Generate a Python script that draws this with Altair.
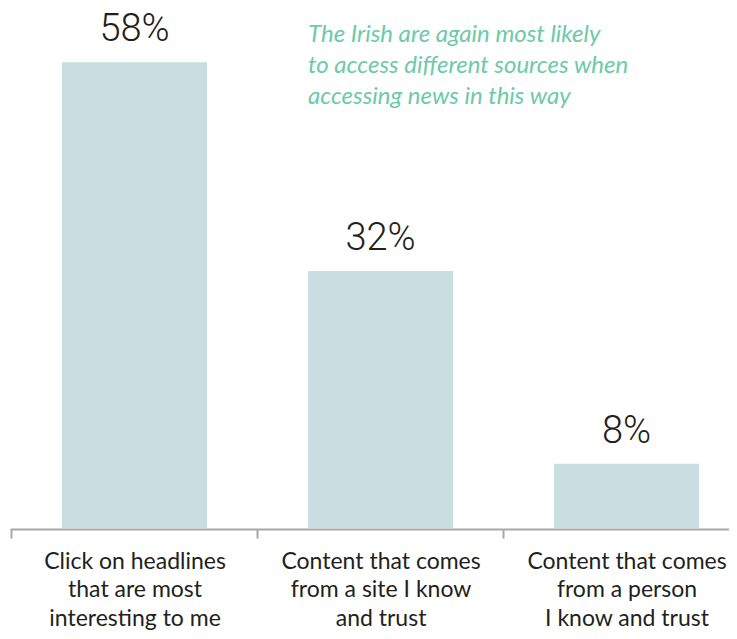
import altair as alt
import pandas as pd

categories = [
    "Click on headlines\nthat are most\ninteresting to me",
    "Content that comes\nfrom a site I know\nand trust",
    "Content that comes\nfrom a person\nI know and trust",
]
values = [58, 32, 8]
value_labels = ["58%", "32%", "8%"]
annotation = "The Irish are again most likely\nto access different sources when\naccessing news in this way"

df = pd.DataFrame({"cat": categories, "val": values, "lab": value_labels})

x_scale = alt.Scale(paddingInner=0.41, paddingOuter=0.1664, align=0.635)

x_enc = alt.X(
    "cat:N",
    sort=categories,
    scale=x_scale,
    axis=alt.Axis(
        title=None,
        labelExpr="split(datum.label, '\\n')",
        labelFont="Lato",
        labelFontSize=23,
        labelColor="#231f20",
        labelLineHeight=28.5,
        labelBaseline="alphabetic",
        labelPadding=30,
        labelAngle=0,
        labelAlign="center",
        tickOffset=-124,
        labelOffset=124,
        tickSize=9,
        tickWidth=2,
        tickColor="#a8a8ab",
        domainColor="#a8a8ab",
        domainWidth=2,
        offset=1,
        labelLimit=0,
        grid=False,
    ),
)

y_enc = alt.Y("val:Q", scale=alt.Scale(domain=[0, 64], nice=False), axis=None)

bars = alt.Chart(df).mark_bar(color="#c8dee0").encode(x=x_enc, y=y_enc)

labels = alt.Chart(df).mark_text(
    font="Roboto", fontWeight=300, fontSize=38, color="#231f20",
    baseline="alphabetic", dy=-21,
).encode(x=alt.X("cat:N", sort=categories), y="val:Q", text="lab:N")

note = alt.Chart(pd.DataFrame({"t": [annotation]})).transform_calculate(
    tt="split(datum.t, '\\n')"
).mark_text(
    font="Lato", fontStyle="italic", fontSize=24,
    color="#6ccaa7", align="left", baseline="alphabetic", lineHeight=31,
).encode(
    x=alt.value(298), y=alt.value(28),
    text="tt:N",
)

chart = alt.layer(bars, labels, note).properties(
    width=719, height=514,
    autosize=alt.AutoSizeParams(type="none"),
    padding={"left": 2, "top": 6, "right": 0, "bottom": 103},
    background="white",
).configure_view(stroke=None)

chart.save("out.html", embed_options={"renderer": "svg", "actions": False})
